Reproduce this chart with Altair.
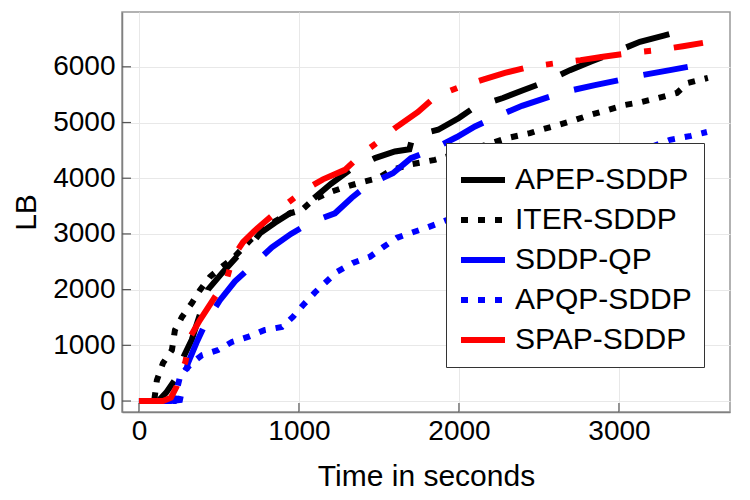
import altair as alt
import pandas as pd

# ---- data ----
series_names = ["APEP-SDDP", "ITER-SDDP", "SDDP-QP", "APQP-SDDP", "SPAP-SDDP"]
series_colors = ["#000000", "#000000", "#0000ff", "#0000ff", "#ff0000"]

apep_t = [0, 120, 170, 225, 280, 330, 431, 520, 612, 700, 756, 850, 944, 1081, 1200, 1319,
          1475, 1600, 1690, 1712, 1870, 2000, 2100, 2275, 2400, 2540, 2694, 2830, 2963, 3131,
          3280, 3412]
apep_lb = [0, 0, 150, 380, 800, 1100, 2000, 2300, 2590, 2800, 3010, 3200, 3370, 3610, 3900, 4150,
           4360, 4480, 4520, 4760, 4870, 5080, 5280, 5440, 5580, 5730, 5940, 6100, 6250, 6450,
           6560, 6660]

iter_t = [0, 95, 112, 150, 206, 225, 269, 331, 381, 444, 519, 587, 700, 800, 944, 1019, 1087,
          1194, 1287, 1394, 1494, 1581, 1700, 1850, 2000, 2150, 2300, 2444, 2506, 2620, 2725,
          2819, 2931, 3037, 3144, 3244, 3362, 3431, 3556]
iter_lb = [0, 0, 375, 680, 915, 1275, 1510, 1760, 1990, 2230, 2410, 2560, 2900, 3150, 3370, 3430,
           3610, 3750, 3840, 3930, 4000, 4150, 4250, 4330, 4450, 4580, 4720, 4810, 4865, 4955,
           5045, 5135, 5225, 5315, 5370, 5440, 5530, 5710, 5800]

qp_t = [0, 200, 256, 280, 306, 360, 425, 506, 600, 712, 831, 950, 1069, 1225, 1330, 1431, 1587,
        1700, 1831, 1987, 2100, 2237, 2394, 2530, 2675, 2850, 3000, 3144, 3319, 3450, 3587]
qp_lb = [0, 0, 18, 350, 680, 1050, 1450, 1810, 2150, 2440, 2760, 3000, 3200, 3370, 3650, 3880,
         4090, 4360, 4510, 4740, 4930, 5110, 5300, 5430, 5560, 5670, 5760, 5850, 5940, 6010, 6070]

apqp_t = [0, 220, 256, 290, 331, 394, 494, 581, 681, 787, 894, 962, 1025, 1100, 1237, 1337, 1444,
          1525, 1612, 1712, 1806, 1925, 2100, 2300, 2500, 2700, 2900, 3100, 3319, 3450, 3550]
apqp_lb = [0, 0, 430, 560, 680, 825, 915, 1060, 1150, 1275, 1330, 1510, 1720, 1950, 2320, 2480,
           2590, 2760, 2930, 3030, 3120, 3250, 3450, 3650, 3850, 4050, 4250, 4450, 4690, 4760, 4830]

spap_t = [0, 150, 200, 235, 260, 290, 320, 380, 462, 550, 587, 650, 720, 800, 912, 1037, 1150,
          1287, 1400, 1525, 1600, 1744, 1850, 2006, 2150, 2287, 2444, 2620, 2760, 2900, 3070,
          3245, 3400, 3525]
spap_lb = [0, 0, 60, 257, 500, 700, 1150, 1450, 1810, 2200, 2580, 2850, 3050, 3250, 3520, 3790,
           3980, 4150, 4450, 4720, 4900, 5190, 5460, 5640, 5770, 5890, 6000, 6070, 6120, 6180,
           6250, 6300, 6370, 6430]

x_ticks = [0, 1000, 2000, 3000]
y_ticks = [0, 1000, 2000, 3000, 4000, 5000, 6000]

# ---- build table ----
rows = []
for name, ts, lbs in zip(series_names,
                         [apep_t, iter_t, qp_t, apqp_t, spap_t],
                         [apep_lb, iter_lb, qp_lb, apqp_lb, spap_lb]):
    for i, (t, v) in enumerate(zip(ts, lbs)):
        rows.append({"series": name, "t": t, "lb": v, "order": i})
df = pd.DataFrame(rows)

FONT = "Liberation Sans"
W, H = 608, 400

xscale = alt.Scale(domain=[-106, 3694], nice=False, zero=False)
yscale = alt.Scale(domain=[-197, 6984], nice=False, zero=False)

xaxis = alt.Axis(values=x_ticks, format="d", title="Time in seconds", labelFontSize=28,
                 titleFontSize=30, labelPadding=5, titlePadding=16, grid=True, ticks=False,
                 tickSize=0, labelFlush=False)
yaxis = alt.Axis(values=y_ticks, format="d", title="LB", labelFontSize=28, titleFontSize=30,
                 labelPadding=7, titlePadding=11, grid=True, ticks=False, tickSize=0)

dash_styles = {
    "APEP-SDDP": [45, 26],
    "ITER-SDDP": [7, 10],
    "SDDP-QP": [45, 26],
    "APQP-SDDP": [7, 10],
    "SPAP-SDDP": [46, 23, 7, 23],
}

layers = []
for name, col in zip(series_names, series_colors):
    layer = alt.Chart(df).transform_filter(alt.datum.series == name).mark_line(
        stroke=col, strokeWidth=6, strokeDash=dash_styles[name], strokeCap="butt"
    ).encode(
        x=alt.X("t:Q", scale=xscale, axis=xaxis),
        y=alt.Y("lb:Q", scale=yscale, axis=yaxis),
        order="order:Q",
    )
    layers.append(layer)

LEG_X, LEG_Y = 324, 131
legend_layer = alt.Chart(df).transform_filter("false").mark_line(strokeWidth=6).encode(
    x=alt.X("t:Q", scale=xscale, axis=xaxis),
    y=alt.Y("lb:Q", scale=yscale, axis=yaxis),
    color=alt.Color("series:N", scale=alt.Scale(domain=series_names, range=series_colors),
                    legend=alt.Legend(title=None, orient="none", legendX=LEG_X, legendY=LEG_Y)),
    strokeDash=alt.StrokeDash("series:N",
                              scale=alt.Scale(domain=series_names,
                                              range=[[1, 0], [7, 10], [1, 0], [7, 10], [1, 0]]),
                              legend=alt.Legend(title=None, orient="none", legendX=LEG_X, legendY=LEG_Y)),
)

ytick_marks = alt.Chart(pd.DataFrame({"v": y_ticks})).mark_rule(color="#555555", strokeWidth=1.2).encode(
    y=alt.Y("v:Q", scale=yscale), x=alt.value(0), x2=alt.value(9))
xtick_marks = alt.Chart(pd.DataFrame({"v": x_ticks})).mark_rule(color="#555555", strokeWidth=1.2).encode(
    x=alt.X("v:Q", scale=xscale), y=alt.value(H), y2=alt.value(H - 9))

chart = alt.layer(*layers, legend_layer, ytick_marks, xtick_marks).properties(
    width=W, height=H,
    autosize=alt.AutoSizeParams(type="none"),
    padding={"left": 114, "top": 4, "right": 12, "bottom": 80},
).configure(
    font=FONT,
).configure_view(
    stroke="#999999", strokeWidth=1.5,
).configure_axis(
    labelFont=FONT, titleFont=FONT, labelColor="#000000", titleColor="#000000",
    titleFontWeight="normal", domainColor="#808080", domainWidth=1.5,
    gridColor="#e8e8e8", gridWidth=1,
).configure_legend(
    labelFont=FONT, labelFontSize=30, labelColor="#000000", labelLimit=0,
    symbolType="stroke", symbolSize=1936, symbolStrokeWidth=6,
    labelOffset=7, rowPadding=-6, padding=12,
    strokeColor="#333333", fillColor="#ffffff", cornerRadius=0,
)

chart.save("out.html", embed_options={"renderer": "svg", "actions": False})
